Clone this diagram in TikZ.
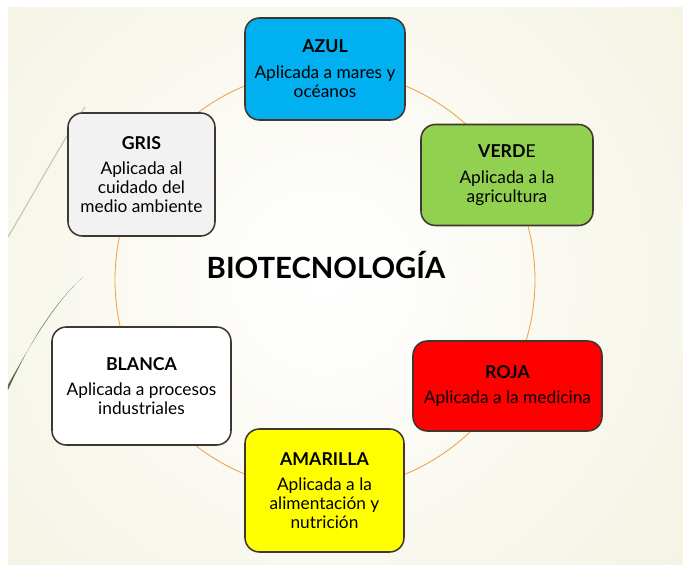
\documentclass[tikz,border=0pt]{standalone}
\usepackage{fontspec}
\setmainfont{Lato}
\usepackage{tikz}
\definecolor{bgcream}{RGB}{234,231,200}
\definecolor{orbitorange}{RGB}{242,162,70}
\definecolor{boxline}{RGB}{64,56,48}
\definecolor{azul}{RGB}{0,176,240}
\definecolor{verde}{RGB}{146,208,80}
\definecolor{gris}{RGB}{242,242,242}
\definecolor{roja}{RGB}{255,0,0}
\definecolor{amarilla}{RGB}{255,255,0}
\definecolor{leafdark}{RGB}{88,104,72}
\definecolor{leaflight}{RGB}{196,200,172}

\tikzset{
	biobox/.style={draw=boxline, line width=1.1pt, rounded corners=0.36cm, align=center,
		inner sep=3pt, font=\fontsize{12.3pt}{13.4pt}\selectfont},
	orbit/.style={draw=orbitorange, line width=0.6pt}
}
\newcommand{\boxhead}[1]{{\fontsize{12.6pt}{13.4pt}\selectfont\bfseries #1}\\[5pt]}

\begin{document}
\begin{tikzpicture}
		\useasboundingbox (-8.125,-7.125) rectangle (8.95,7.0);
		% background
		\begin{scope}
			\clip (-7.925,-7.125) rectangle (8.95,6.8);
			\fill[bgcream] (-7.925,-7.125) rectangle (8.95,6.8);
			\shade[inner color=white, outer color=bgcream] (0,0) circle (23cm);
			\draw[leaflight, line width=0.8pt] (-7.925,1.075) .. controls (-7.2,2.3) and (-6.6,3.4) .. (-6.0,4.325);
			\fill[leafdark] (-7.925,-2.75) .. controls (-7.4,-1.6) and (-6.8,-0.6) .. (-6.05,0.075)
				.. controls (-6.75,-0.55) and (-7.35,-1.6) .. (-7.925,-2.62) -- cycle;
		\end{scope}

		\coordinate (c) at (0,0);
		\draw[orbit] (c) circle (5.25cm);

		\draw (0,5.275) node[biobox, fill=azul, minimum width=4cm, minimum height=2.55cm] (azul) {\boxhead{AZUL}Aplicada a mares y\\oc\'eanos}
		(4.55,2.625) node[biobox, fill=verde, minimum width=4.3cm, minimum height=2.525cm] (verde) {\boxhead{VERD\mdseries E}Aplicada a la\\agricultura}
		(4.5625,-2.65) node[biobox, fill=roja, minimum width=4.725cm, minimum height=2.25cm] (roja) {\boxhead{ROJA}Aplicada a la medicina}
		(-0.0125,-5.2625) node[biobox, fill=amarilla, minimum width=3.975cm, minimum height=3.075cm] (amarilla) {\boxhead{AMARILLA}Aplicada a la\\alimentaci\'on y\\nutrici\'on}
		(-4.5875,-2.65) node[biobox, fill=white, minimum width=4.475cm, minimum height=2.95cm] (blanca) {\boxhead{BLANCA}Aplicada a procesos\\industriales}
		(-4.5875,2.6375) node[biobox, fill=gris, minimum width=3.675cm, minimum height=3.075cm] (gris) {\boxhead{GRIS}Aplicada al\\cuidado del\\medio ambiente};

		\node[anchor=base, font=\fontsize{20.8pt}{24pt}\selectfont\bfseries] (bio) at (0.025,0.025) {BIOTECNOLOG\'IA};
	\end{tikzpicture}
\end{document}
